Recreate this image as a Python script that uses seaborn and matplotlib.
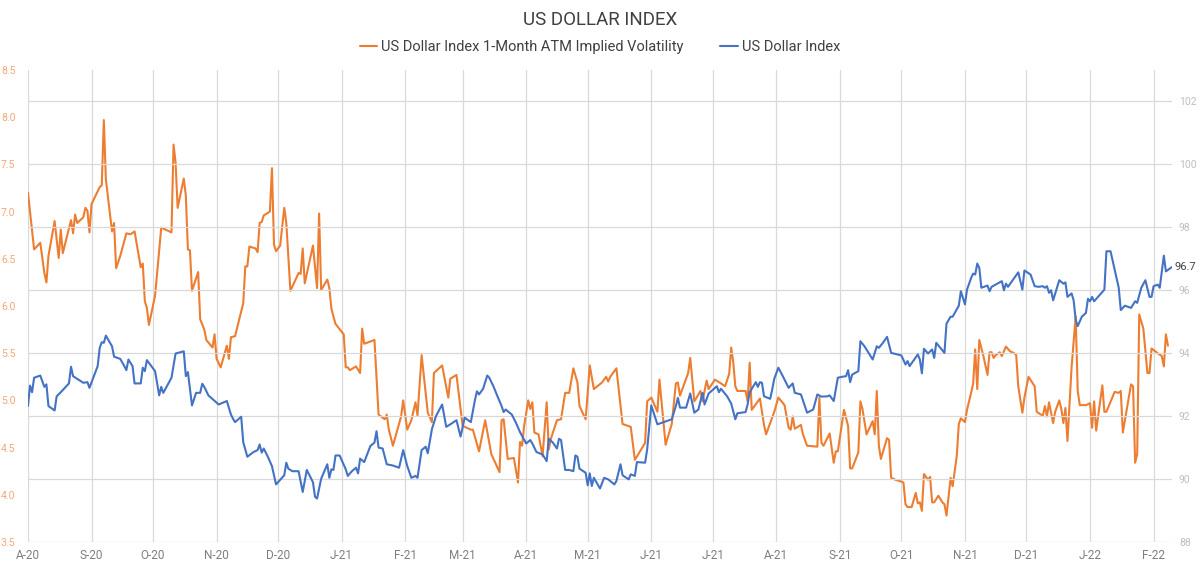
import pandas as pd
import matplotlib
matplotlib.use("Agg")
import matplotlib.pyplot as plt
import matplotlib.dates as mdates
from matplotlib.ticker import FuncFormatter, MultipleLocator
import seaborn as sns

# 1-month ATM implied vol (left axis)
vol_dates = [
    "2020-08-01", "2020-08-04", "2020-08-07", "2020-08-09", "2020-08-10", "2020-08-11", "2020-08-14",
    "2020-08-16", "2020-08-17", "2020-08-18", "2020-08-22", "2020-08-23", "2020-08-24", "2020-08-25",
    "2020-08-28", "2020-08-29", "2020-08-30", "2020-08-31", "2020-09-01", "2020-09-05", "2020-09-06",
    "2020-09-07", "2020-09-08", "2020-09-11", "2020-09-12", "2020-09-13", "2020-09-15", "2020-09-18",
    "2020-09-20", "2020-09-22", "2020-09-25", "2020-09-26", "2020-09-27", "2020-09-28", "2020-09-29",
    "2020-10-02", "2020-10-03", "2020-10-05", "2020-10-07", "2020-10-10", "2020-10-11", "2020-10-12",
    "2020-10-13", "2020-10-16", "2020-10-17", "2020-10-18", "2020-10-19", "2020-10-20", "2020-10-23",
    "2020-10-24", "2020-10-26", "2020-10-27", "2020-10-30", "2020-10-31", "2020-11-01", "2020-11-03",
    "2020-11-06", "2020-11-07", "2020-11-08", "2020-11-10", "2020-11-14", "2020-11-15", "2020-11-16",
    "2020-11-17", "2020-11-20", "2020-11-21", "2020-11-22", "2020-11-23", "2020-11-24", "2020-11-27",
    "2020-11-28", "2020-11-29", "2020-11-30", "2020-12-02", "2020-12-04", "2020-12-05", "2020-12-07",
    "2020-12-11", "2020-12-12", "2020-12-13", "2020-12-14", "2020-12-18", "2020-12-20", "2020-12-21",
    "2020-12-22", "2020-12-25", "2020-12-26", "2020-12-27", "2020-12-29", "2021-01-02", "2021-01-03",
    "2021-01-04", "2021-01-05", "2021-01-08", "2021-01-10", "2021-01-11", "2021-01-12", "2021-01-17",
    "2021-01-19", "2021-01-22", "2021-01-23", "2021-01-24", "2021-01-26", "2021-01-30", "2021-01-31",
    "2021-02-02", "2021-02-04", "2021-02-06", "2021-02-07", "2021-02-09", "2021-02-12", "2021-02-14",
    "2021-02-15", "2021-02-19", "2021-02-22", "2021-02-23", "2021-02-26", "2021-03-01", "2021-03-05",
    "2021-03-06", "2021-03-09", "2021-03-12", "2021-03-15", "2021-03-19", "2021-03-20", "2021-03-21",
    "2021-03-23", "2021-03-26", "2021-03-28", "2021-03-29", "2021-03-30", "2021-03-31", "2021-04-02",
    "2021-04-03", "2021-04-04", "2021-04-05", "2021-04-07", "2021-04-09", "2021-04-11", "2021-04-12",
    "2021-04-13", "2021-04-16", "2021-04-18", "2021-04-20", "2021-04-22", "2021-04-24", "2021-04-26",
    "2021-04-27", "2021-04-30", "2021-05-02", "2021-05-04", "2021-05-08", "2021-05-10", "2021-05-11",
    "2021-05-12", "2021-05-15", "2021-05-18", "2021-05-22", "2021-05-24", "2021-05-29", "2021-05-30",
    "2021-06-01", "2021-06-04", "2021-06-05", "2021-06-08", "2021-06-11", "2021-06-13", "2021-06-14",
    "2021-06-15", "2021-06-19", "2021-06-20", "2021-06-22", "2021-06-25", "2021-06-26", "2021-06-28",
    "2021-06-29", "2021-07-02", "2021-07-05", "2021-07-07", "2021-07-09", "2021-07-10", "2021-07-11",
    "2021-07-12", "2021-07-13", "2021-07-17", "2021-07-18", "2021-07-19", "2021-07-20", "2021-07-22",
    "2021-07-24", "2021-07-26", "2021-07-27", "2021-07-29", "2021-07-31", "2021-08-02", "2021-08-05",
    "2021-08-07", "2021-08-08", "2021-08-09", "2021-08-10", "2021-08-13", "2021-08-14", "2021-08-16",
    "2021-08-21", "2021-08-22", "2021-08-23", "2021-08-24", "2021-08-27", "2021-08-29", "2021-08-30",
    "2021-08-31", "2021-09-03", "2021-09-05", "2021-09-06", "2021-09-07", "2021-09-10", "2021-09-11",
    "2021-09-12", "2021-09-14", "2021-09-17", "2021-09-18", "2021-09-19", "2021-09-20", "2021-09-21",
    "2021-09-24", "2021-09-25", "2021-09-26", "2021-09-28", "2021-10-01", "2021-10-02", "2021-10-03",
    "2021-10-04", "2021-10-06", "2021-10-08", "2021-10-09", "2021-10-10", "2021-10-11", "2021-10-12",
    "2021-10-14", "2021-10-15", "2021-10-16", "2021-10-17", "2021-10-19", "2021-10-21", "2021-10-22",
    "2021-10-23", "2021-10-25", "2021-10-26", "2021-10-28", "2021-10-29", "2021-10-30", "2021-11-01",
    "2021-11-02", "2021-11-04", "2021-11-05", "2021-11-06", "2021-11-07", "2021-11-08", "2021-11-10",
    "2021-11-12", "2021-11-13", "2021-11-14", "2021-11-15", "2021-11-16", "2021-11-18", "2021-11-19",
    "2021-11-21", "2021-11-23", "2021-11-25", "2021-11-26", "2021-11-27", "2021-11-29", "2021-11-30",
    "2021-12-02", "2021-12-05", "2021-12-06", "2021-12-08", "2021-12-09", "2021-12-10", "2021-12-11",
    "2021-12-12", "2021-12-14", "2021-12-15", "2021-12-17", "2021-12-18", "2021-12-19", "2021-12-20",
    "2021-12-21", "2021-12-23", "2021-12-25", "2021-12-26", "2021-12-27", "2021-12-30", "2022-01-01",
    "2022-01-02", "2022-01-03", "2022-01-04", "2022-01-07", "2022-01-08", "2022-01-09", "2022-01-13",
    "2022-01-15", "2022-01-16", "2022-01-17", "2022-01-21", "2022-01-22", "2022-01-23", "2022-01-24",
    "2022-01-25", "2022-01-27", "2022-01-29", "2022-01-30", "2022-01-31", "2022-02-03", "2022-02-05",
    "2022-02-06", "2022-02-07", "2022-02-08",
]
vol_values = [
    7.20, 6.60, 6.67, 6.35, 6.25, 6.53, 6.90,
    6.51, 6.81, 6.56, 6.91, 6.77, 6.97, 6.88,
    6.94, 7.04, 7.01, 6.78, 7.08, 7.26, 7.28,
    7.97, 7.34, 6.79, 6.88, 6.40, 6.53, 6.77,
    6.76, 6.79, 6.41, 6.45, 6.05, 5.98, 5.80,
    6.11, 6.35, 6.83, 6.81, 6.78, 7.71, 7.52,
    7.04, 7.35, 7.17, 6.60, 6.59, 6.16, 6.36,
    5.86, 5.75, 5.64, 5.56, 5.70, 5.44, 5.35,
    5.58, 5.44, 5.67, 5.68, 6.03, 6.42, 6.42,
    6.63, 6.61, 6.57, 6.88, 6.89, 6.96, 7.00,
    7.46, 6.65, 6.58, 6.64, 7.04, 6.88, 6.16,
    6.35, 6.34, 6.61, 6.24, 6.64, 6.19, 6.98,
    6.17, 6.28, 6.19, 5.97, 5.81, 5.70, 5.35,
    5.35, 5.32, 5.36, 5.29, 5.76, 5.60, 5.64,
    4.85, 4.80, 4.85, 4.69, 4.52, 4.83, 5.00,
    4.69, 4.79, 4.98, 4.84, 5.48, 4.87, 4.77,
    5.29, 5.37, 5.03, 5.23, 5.27, 4.73, 4.69,
    4.69, 4.46, 4.79, 4.43, 4.24, 4.79, 4.80,
    4.38, 4.39, 4.13, 4.56, 4.52, 4.73, 5.00,
    4.91, 4.98, 4.66, 4.64, 4.41, 4.98, 4.48,
    4.59, 4.79, 4.80, 5.08, 5.08, 5.34, 5.19,
    4.94, 4.80, 5.37, 5.12, 5.19, 5.25, 5.20,
    5.25, 5.34, 4.75, 4.72, 4.37, 4.55, 4.99,
    5.03, 4.88, 5.22, 4.53, 4.75, 5.18, 5.19,
    5.05, 5.29, 5.45, 4.99, 5.10, 4.99, 5.21,
    5.12, 5.22, 5.18, 5.15, 5.28, 5.56, 5.40,
    5.15, 5.10, 5.10, 4.99, 5.40, 4.90, 4.96,
    5.02, 4.74, 4.64, 4.76, 4.88, 5.03, 4.95,
    4.71, 4.69, 4.83, 4.70, 4.74, 4.64, 4.52,
    4.51, 5.03, 4.55, 4.52, 4.65, 4.34, 4.46,
    4.46, 4.90, 4.73, 4.28, 4.28, 4.45, 4.99,
    4.91, 4.64, 4.78, 4.64, 5.10, 4.52, 4.38,
    4.60, 4.58, 4.18, 4.16, 4.14, 4.13, 3.90,
    3.87, 3.87, 4.02, 3.91, 3.92, 3.83, 4.22,
    4.16, 4.19, 3.92, 3.92, 3.99, 3.92, 3.90,
    3.78, 4.18, 4.09, 4.41, 4.75, 4.81, 4.77,
    4.90, 5.08, 5.18, 5.54, 5.12, 5.64, 5.47,
    5.27, 5.51, 5.51, 5.45, 5.48, 5.51, 5.47,
    5.57, 5.52, 5.50, 5.48, 5.15, 4.87, 5.03,
    5.25, 5.15, 4.88, 4.85, 4.84, 4.94, 4.83,
    4.98, 4.76, 4.88, 5.00, 4.91, 4.76, 4.92,
    4.57, 5.35, 5.89, 5.10, 4.95, 4.95, 4.97,
    4.71, 4.99, 4.68, 5.16, 4.88, 4.88, 5.09,
    5.08, 5.10, 4.66, 5.17, 5.15, 4.34, 4.43,
    5.91, 5.76, 5.29, 5.29, 5.55, 5.50, 5.47,
    5.36, 5.70, 5.58,
]

# US Dollar Index level (right axis)
dxy_dates = [
    "2020-08-01", "2020-08-02", "2020-08-03", "2020-08-04", "2020-08-07", "2020-08-09", "2020-08-10",
    "2020-08-11", "2020-08-14", "2020-08-15", "2020-08-17", "2020-08-21", "2020-08-22", "2020-08-23",
    "2020-08-28", "2020-08-30", "2020-08-31", "2020-09-04", "2020-09-05", "2020-09-06", "2020-09-07",
    "2020-09-08", "2020-09-11", "2020-09-12", "2020-09-15", "2020-09-17", "2020-09-18", "2020-09-19",
    "2020-09-21", "2020-09-22", "2020-09-25", "2020-09-26", "2020-09-27", "2020-09-28", "2020-10-02",
    "2020-10-04", "2020-10-05", "2020-10-06", "2020-10-10", "2020-10-12", "2020-10-16", "2020-10-17",
    "2020-10-18", "2020-10-20", "2020-10-22", "2020-10-24", "2020-10-25", "2020-10-26", "2020-10-28",
    "2020-11-02", "2020-11-06", "2020-11-08", "2020-11-09", "2020-11-10", "2020-11-13", "2020-11-14",
    "2020-11-16", "2020-11-19", "2020-11-21", "2020-11-22", "2020-11-23", "2020-11-24", "2020-11-26",
    "2020-11-28", "2020-11-30", "2020-12-04", "2020-12-05", "2020-12-06", "2020-12-08", "2020-12-11",
    "2020-12-13", "2020-12-15", "2020-12-18", "2020-12-19", "2020-12-20", "2020-12-22", "2020-12-25",
    "2020-12-26", "2020-12-27", "2020-12-28", "2020-12-29", "2020-12-31", "2021-01-03", "2021-01-04",
    "2021-01-06", "2021-01-08", "2021-01-09", "2021-01-10", "2021-01-12", "2021-01-15", "2021-01-17",
    "2021-01-18", "2021-01-19", "2021-01-21", "2021-01-23", "2021-01-26", "2021-01-29", "2021-01-31",
    "2021-02-02", "2021-02-04", "2021-02-06", "2021-02-07", "2021-02-09", "2021-02-11", "2021-02-12",
    "2021-02-14", "2021-02-16", "2021-02-19", "2021-02-21", "2021-02-23", "2021-02-26", "2021-02-28",
    "2021-03-02", "2021-03-05", "2021-03-07", "2021-03-08", "2021-03-09", "2021-03-11", "2021-03-13",
    "2021-03-14", "2021-03-16", "2021-03-18", "2021-03-20", "2021-03-21", "2021-03-22", "2021-03-25",
    "2021-03-27", "2021-03-29", "2021-04-01", "2021-04-03", "2021-04-04", "2021-04-06", "2021-04-09",
    "2021-04-11", "2021-04-12", "2021-04-14", "2021-04-16", "2021-04-17", "2021-04-18", "2021-04-20",
    "2021-04-22", "2021-04-24", "2021-04-25", "2021-04-26", "2021-04-27", "2021-04-30", "2021-05-01",
    "2021-05-02", "2021-05-03", "2021-05-04", "2021-05-07", "2021-05-09", "2021-05-11", "2021-05-14",
    "2021-05-15", "2021-05-17", "2021-05-18", "2021-05-21", "2021-05-22", "2021-05-24", "2021-05-25",
    "2021-05-29", "2021-05-30", "2021-06-01", "2021-06-04", "2021-06-07", "2021-06-11", "2021-06-13",
    "2021-06-14", "2021-06-15", "2021-06-18", "2021-06-20", "2021-06-22", "2021-06-24", "2021-06-26",
    "2021-06-27", "2021-06-29", "2021-07-03", "2021-07-04", "2021-07-05", "2021-07-08", "2021-07-10",
    "2021-07-12", "2021-07-13", "2021-07-17", "2021-07-18", "2021-07-19", "2021-07-22", "2021-07-23",
    "2021-07-24", "2021-07-25", "2021-07-26", "2021-07-29", "2021-07-30", "2021-07-31", "2021-08-02",
    "2021-08-04", "2021-08-07", "2021-08-09", "2021-08-10", "2021-08-13", "2021-08-16", "2021-08-19",
    "2021-08-21", "2021-08-23", "2021-08-26", "2021-08-27", "2021-08-29", "2021-08-31", "2021-09-02",
    "2021-09-04", "2021-09-05", "2021-09-06", "2021-09-07", "2021-09-10", "2021-09-11", "2021-09-13",
    "2021-09-15", "2021-09-17", "2021-09-19", "2021-09-20", "2021-09-22", "2021-09-24", "2021-09-26",
    "2021-09-29", "2021-10-01", "2021-10-03", "2021-10-04", "2021-10-05", "2021-10-09", "2021-10-10",
    "2021-10-11", "2021-10-12", "2021-10-14", "2021-10-16", "2021-10-17", "2021-10-18", "2021-10-22",
    "2021-10-23", "2021-10-25", "2021-10-26", "2021-10-29", "2021-10-30", "2021-11-01", "2021-11-02",
    "2021-11-04", "2021-11-05", "2021-11-06", "2021-11-07", "2021-11-08", "2021-11-09", "2021-11-12",
    "2021-11-13", "2021-11-14", "2021-11-19", "2021-11-20", "2021-11-21", "2021-11-22", "2021-11-27",
    "2021-11-29", "2021-11-30", "2021-12-03", "2021-12-05", "2021-12-07", "2021-12-09", "2021-12-10",
    "2021-12-11", "2021-12-12", "2021-12-13", "2021-12-14", "2021-12-17", "2021-12-19", "2021-12-20",
    "2021-12-21", "2021-12-23", "2021-12-24", "2021-12-25", "2021-12-26", "2021-12-28", "2021-12-30",
    "2021-12-31", "2022-01-01", "2022-01-02", "2022-01-03", "2022-01-08", "2022-01-09", "2022-01-11",
    "2022-01-13", "2022-01-15", "2022-01-16", "2022-01-18", "2022-01-21", "2022-01-23", "2022-01-24",
    "2022-01-26", "2022-01-28", "2022-01-30", "2022-01-31", "2022-02-01", "2022-02-03", "2022-02-04",
    "2022-02-06", "2022-02-07", "2022-02-10",
]
dxy_values = [
    92.32, 92.97, 92.76, 93.22, 93.29, 92.93, 93.01,
    92.32, 92.18, 92.63, 92.76, 93.04, 93.57, 93.27,
    93.06, 93.08, 92.90, 93.59, 94.17, 94.35, 94.33,
    94.56, 94.22, 93.89, 93.82, 93.59, 93.46, 93.80,
    93.59, 93.04, 93.04, 93.54, 93.43, 93.78, 93.43,
    92.66, 92.93, 92.74, 93.22, 93.99, 94.06, 93.27,
    93.40, 92.34, 92.74, 92.74, 93.03, 92.93, 92.66,
    92.37, 92.48, 92.05, 91.92, 91.81, 91.98, 91.17,
    90.71, 90.86, 90.92, 91.10, 90.84, 90.97, 90.71,
    90.41, 89.83, 90.12, 90.52, 90.33, 90.25, 90.25,
    89.59, 90.29, 89.90, 89.44, 89.38, 90.01, 90.47,
    90.04, 90.31, 90.29, 90.75, 90.75, 90.31, 90.10,
    90.25, 90.36, 90.18, 90.65, 90.54, 91.05, 91.16,
    91.52, 91.00, 90.97, 90.47, 90.43, 90.36, 90.92,
    90.41, 90.04, 90.10, 90.04, 90.92, 91.03, 90.82,
    91.58, 92.00, 92.37, 91.66, 91.74, 91.87, 91.35,
    91.95, 91.81, 92.51, 92.79, 92.69, 92.87, 93.29,
    93.22, 92.95, 92.63, 92.32, 92.13, 92.21, 92.05,
    91.79, 91.49, 91.13, 91.24, 91.13, 90.86, 90.78,
    90.57, 91.28, 91.16, 90.97, 91.28, 91.24, 90.29,
    90.29, 90.25, 90.75, 90.71, 90.33, 90.20, 89.80,
    90.18, 89.78, 90.04, 89.70, 90.04, 89.99, 89.83,
    89.94, 90.47, 90.12, 89.99, 90.15, 90.10, 90.54,
    90.52, 90.94, 92.34, 91.74, 91.81, 91.90, 92.32,
    92.58, 92.27, 92.27, 92.72, 92.11, 92.21, 92.74,
    92.37, 92.72, 92.95, 92.76, 92.87, 92.63, 92.40,
    91.90, 92.09, 92.13, 92.37, 92.76, 93.08, 92.93,
    93.08, 93.06, 92.63, 92.55, 92.85, 93.19, 93.54,
    93.29, 92.90, 93.04, 92.74, 92.69, 92.11, 92.21,
    92.69, 92.62, 92.63, 92.66, 92.48, 93.22, 93.25,
    93.27, 93.46, 93.08, 93.32, 93.43, 94.38, 94.22,
    94.01, 93.80, 94.22, 94.17, 94.33, 94.52, 94.01,
    93.96, 93.93, 93.64, 93.75, 93.59, 93.96, 93.80,
    93.36, 94.14, 93.99, 94.12, 93.85, 94.33, 94.01,
    94.94, 95.16, 95.16, 95.51, 95.97, 95.55, 96.02,
    96.39, 96.53, 96.50, 96.85, 96.71, 96.08, 96.15,
    95.97, 96.11, 96.29, 96.00, 96.21, 96.11, 96.57,
    96.02, 96.63, 96.50, 96.13, 96.11, 96.13, 96.08,
    96.13, 95.92, 96.00, 95.68, 96.32, 96.21, 96.25,
    95.79, 95.90, 95.68, 95.07, 94.86, 95.16, 95.28,
    95.73, 95.65, 95.79, 95.65, 96.02, 97.24, 97.24,
    96.66, 96.08, 95.37, 95.51, 95.44, 95.65, 95.60,
    96.08, 96.32, 95.79, 95.79, 96.13, 96.18, 96.08,
    97.10, 96.60, 96.74,
]

month_ticks = pd.date_range("2020-08-01", "2022-02-01", freq="MS")

orange = "#ED7D31"
blue = "#4472C4"
grid_col = "#D9D9D9"

vol_df = pd.DataFrame({"date": pd.to_datetime(vol_dates), "vol": vol_values})
dxy_df = pd.DataFrame({"date": pd.to_datetime(dxy_dates), "dxy": dxy_values})

sns.set_theme(style="white")
plt.rcParams["font.family"] = ["Roboto", "DejaVu Sans"]

fig = plt.figure(figsize=(12, 5.67), dpi=100)
ax = fig.add_axes([0.0233, 0.0441, 0.9534, 0.8324])
ax2 = ax.twinx()

sns.lineplot(data=vol_df, x="date", y="vol", ax=ax, color=orange, linewidth=1.5,
             label="US Dollar Index 1-Month ATM Implied Volatility", legend=False)
sns.lineplot(data=dxy_df, x="date", y="dxy", ax=ax2, color=blue, linewidth=1.5,
             label="US Dollar Index", legend=False)

# axes ranges
ax.set_xlim(pd.Timestamp("2020-08-01"), pd.Timestamp("2022-02-10"))
ax.set_ylim(3.5, 8.5)
ax2.set_ylim(88, 103)

# ticks / labels
ax.yaxis.set_major_locator(MultipleLocator(0.5))
ax.yaxis.set_major_formatter(FuncFormatter(lambda v, p: f"{v:.1f}"))
ax2.set_yticks(range(88, 103, 2))
ax.set_xticks(month_ticks)
ax.xaxis.set_major_formatter(FuncFormatter(
    lambda v, p: mdates.num2date(v).strftime("%b")[0] + "-" + mdates.num2date(v).strftime("%y")))

ax.tick_params(axis="y", length=0, pad=9, labelsize=7.5, labelcolor="#F2A878")
ax.tick_params(axis="x", length=0, pad=5, labelsize=8.5, labelcolor="#7F7F7F")
ax2.tick_params(axis="y", length=0, pad=5, labelsize=7.5, labelcolor="#BFBFBF")

# grid: vertical months, horizontal from the right axis
ax.grid(False)
ax2.grid(False)
for d in month_ticks:
    ax.axvline(d, color=grid_col, linewidth=0.9, zorder=0)
for t in range(88, 103, 2):
    ax2.axhline(t, color=grid_col, linewidth=0.9, zorder=0)

for a in (ax, ax2):
    for s in a.spines.values():
        s.set_visible(False)
    a.set_xlabel("")
    a.set_ylabel("")

# last value label
last = dxy_df.iloc[-1]
ax2.annotate(f"{last['dxy']:.1f}", xy=(last["date"], last["dxy"]), xytext=(2, 0),
             textcoords="offset points", va="center", ha="left", fontsize=8, color="#404040")

fig.suptitle("US DOLLAR INDEX", y=0.98, fontsize=13.5, color="#404040")
h1, l1 = ax.get_legend_handles_labels()
h2, l2 = ax2.get_legend_handles_labels()
fig.legend(h1 + h2, l1 + l2, loc="upper center", bbox_to_anchor=(0.5, 0.952), ncol=2,
           frameon=False, fontsize=10.5, handlelength=1.2, handletextpad=0.3, columnspacing=2.5,
           labelcolor="#404040")

fig.savefig("out.png", dpi=100)
